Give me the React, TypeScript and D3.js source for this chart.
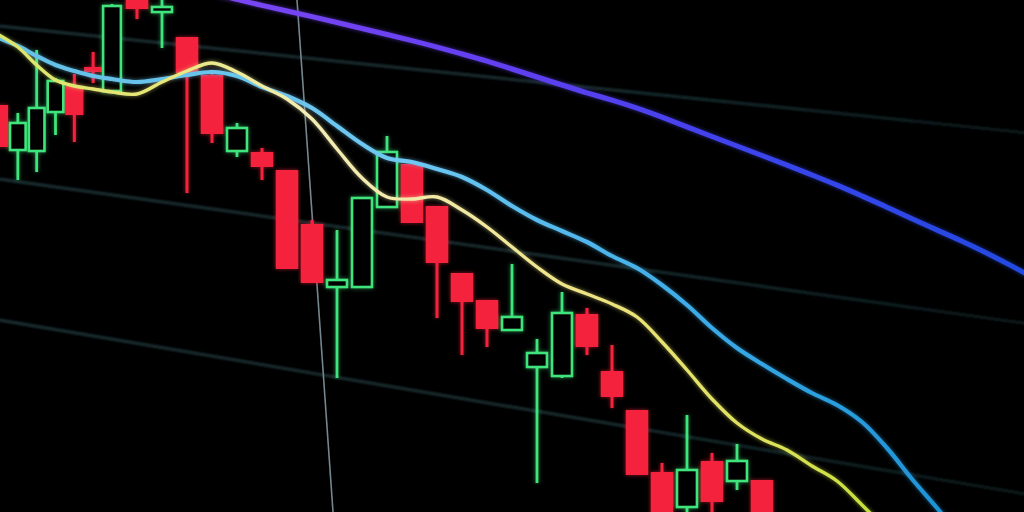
import React, { useEffect } from 'react';
import * as d3 from 'd3';

// ---------- data (prices) ----------
const candleIndex = d3.range(33);
const opens = [89.5, 85.0, 84.9, 88.8, 91.4, 93.3, 90.9, 100.8, 98.8, 96.3, 92.5, 84.9, 84.8, 83.0, 77.6, 71.3, 71.3, 79.3, 83.6, 79.4, 72.7, 70.0, 67.0, 63.3, 62.4, 68.6, 62.9, 59.0, 52.8, 49.3, 53.9, 51.9, 52.0];
const highs = [89.5, 88.7, 95.0, 92.2, 92.6, 94.8, 99.6, 101.5, 101.0, 96.3, 93.0, 87.7, 85.2, 83.0, 78.0, 77.0, 80.2, 86.4, 83.6, 79.4, 72.7, 70.0, 73.6, 66.1, 70.8, 69.2, 65.5, 59.0, 53.7, 58.5, 54.7, 55.6, 52.0];
const lows = [85.3, 82.0, 82.8, 86.5, 85.8, 91.7, 90.7, 98.1, 95.2, 80.7, 85.7, 84.3, 82.0, 73.1, 71.7, 62.2, 71.3, 79.3, 77.7, 68.2, 64.5, 65.3, 67.0, 51.7, 62.2, 64.5, 59.2, 52.5, 45.0, 48.5, 47.0, 51.0, 45.0];
const closes = [85.3, 87.7, 89.2, 91.9, 88.5, 92.8, 99.4, 99.1, 99.3, 92.7, 86.6, 87.2, 83.3, 73.1, 71.7, 72.0, 80.2, 84.8, 77.7, 73.7, 69.8, 67.1, 68.3, 64.7, 68.7, 65.3, 60.3, 52.5, 46.0, 53.0, 49.8, 53.9, 45.5];

// moving averages, one value per candle index (continuing below the frame)
const fastMA = [96.5, 95.3, 93.5, 92.0, 91.4, 91.1, 90.8, 90.6, 91.8, 92.9, 93.7, 92.8, 91.4, 90.1, 88.1, 85.1, 82.2, 80.3, 80.1, 80.3, 79.0, 77.3, 75.3, 73.3, 71.6, 70.6, 69.6, 68.3, 65.8, 63.0, 60.1, 57.7, 56.1, 55.0, 53.4, 51.9, 49.5, 47.0, 44.5];
const midMA = [96.2, 95.4, 94.4, 93.5, 92.9, 92.4, 92.1, 91.8, 92.1, 92.5, 92.8, 92.4, 91.3, 90.4, 89.2, 87.4, 85.6, 84.2, 83.8, 83.1, 82.3, 81.0, 79.4, 78.0, 76.9, 75.8, 74.4, 73.2, 71.5, 69.5, 67.2, 65.2, 63.6, 62.1, 60.7, 59.5, 57.8, 55.2, 52.1, 49.2, 46.2];
const slowMA = [106.5, 106.0, 105.4, 104.8, 104.2, 103.6, 103.0, 102.4, 101.8, 101.2, 100.7, 100.05, 99.45, 98.9, 98.35, 97.75, 97.15, 96.55, 95.95, 95.3, 94.6, 93.9, 93.1, 92.3, 91.5, 90.7, 90.0, 89.2, 88.3, 87.3, 86.35, 85.4, 84.45, 83.5, 82.5, 81.5, 80.4, 79.3, 78.1, 77.0, 75.9, 74.7, 73.4, 72.0];

// grid (price levels at the left and right ends, tilted by the camera angle)
const gridSpan = [0, 43];
const gridLeft = [97.4, 82.1, 68.0];
const gridRight = [86.6, 67.5, 50.4];
const crossIndex = [13.4, 14.84];
const crossPrice = [100, 48.8];

const W = 1024;
const H = 512;

export default function App() {
  useEffect(() => {
    document.body.style.margin = '0';
    document.body.style.background = '#000';
  }, []);

  // perspective: candles on the left are farther away, hence closer together
  const x = d3.scaleLinear().domain([0, 6, 43]).range([-1, 112, 1037]);
  const y = d3.scaleLinear().domain([48.8, 100]).range([H, 0]);

  const step = (i: number) => x(i + 0.5) - x(i - 0.5);
  const bw = (i: number) => 0.7 * step(i) + 5;

  const fastLine = d3
    .line<number>()
    .x((_, i) => x(i))
    .y((d) => y(d))
    .curve(d3.curveCatmullRom.alpha(0.5));
  const slowLine = d3
    .line<number>()
    .x((_, i) => x(i))
    .y((d) => y(d))
    .curve(d3.curveBasis);

  const RED = '#f5233c';
  const GREEN = '#3fe47c';

  return (
    <svg width={W} height={H} style={{ display: 'block', background: '#000' }}>
      <defs>
        <filter id="glow" x="-20%" y="-20%" width="140%" height="140%">
          <feGaussianBlur in="SourceGraphic" stdDeviation="2.2" result="b" />
          <feComponentTransfer in="b" result="bb">
            <feFuncA type="linear" slope="0.6" />
          </feComponentTransfer>
          <feMerge>
            <feMergeNode in="bb" />
            <feMergeNode in="SourceGraphic" />
          </feMerge>
        </filter>
        <filter id="soft" x="-5%" y="-50%" width="110%" height="200%">
          <feGaussianBlur stdDeviation="0.9" />
        </filter>
        <filter id="softer">
          <feGaussianBlur stdDeviation="0.35" />
        </filter>
        <linearGradient id="gGrid" gradientUnits="userSpaceOnUse" x1="0" y1="0" x2="1024" y2="0">
          <stop offset="0" stopColor="#1d3034" />
          <stop offset="0.6" stopColor="#1a2e31" />
          <stop offset="1" stopColor="#0c1a1b" />
        </linearGradient>
        <linearGradient id="gYellow" gradientUnits="userSpaceOnUse" x1="0" y1="0" x2="1024" y2="0">
          <stop offset="0" stopColor="#dce66a" />
          <stop offset="0.15" stopColor="#e6e676" />
          <stop offset="0.3" stopColor="#f4edb4" />
          <stop offset="0.45" stopColor="#f2e9a2" />
          <stop offset="0.6" stopColor="#ece27c" />
          <stop offset="0.75" stopColor="#dce25a" />
          <stop offset="0.86" stopColor="#c4df38" />
        </linearGradient>
        <linearGradient id="gCyan" gradientUnits="userSpaceOnUse" x1="0" y1="0" x2="1024" y2="0">
          <stop offset="0" stopColor="#64c0e6" />
          <stop offset="0.4" stopColor="#6ec8f2" />
          <stop offset="0.7" stopColor="#3aa9e6" />
          <stop offset="0.92" stopColor="#1d92d6" />
        </linearGradient>
        <linearGradient id="gPurple" gradientUnits="userSpaceOnUse" x1="0" y1="0" x2="1024" y2="0">
          <stop offset="0.2" stopColor="#7c46f4" />
          <stop offset="0.5" stopColor="#6140f0" />
          <stop offset="0.75" stopColor="#3a44ec" />
          <stop offset="1" stopColor="#2349e0" />
        </linearGradient>
      </defs>

      <rect x={0} y={0} width={W} height={H} fill="#000" />

      {/* grid */}
      <g filter="url(#soft)">
        {gridLeft.map((p, k) => (
          <line
            key={k}
            x1={x(gridSpan[0])}
            y1={y(p)}
            x2={x(gridSpan[1])}
            y2={y(gridRight[k])}
            stroke="url(#gGrid)"
            strokeWidth={3}
          />
        ))}
      </g>
      <line
        x1={x(crossIndex[0])}
        y1={y(crossPrice[0])}
        x2={x(crossIndex[1])}
        y2={y(crossPrice[1])}
        stroke="#74868f"
        strokeWidth={1.6}
        filter="url(#softer)"
      />

      {/* candles */}
      <g filter="url(#glow)">
        {candleIndex.map((i) => {
          const o = opens[i];
          const c = closes[i];
          const up = c >= o;
          const cx = x(i);
          const w = bw(i);
          const top = y(Math.max(o, c));
          const bot = y(Math.min(o, c));
          const color = up ? GREEN : RED;
          if (up) {
            const hbody = Math.max(bot - top, 3);
            return (
              <g key={i}>
                <line x1={cx} x2={cx} y1={y(highs[i])} y2={top} stroke={color} strokeWidth={2.8} />
                <line x1={cx} x2={cx} y1={top + hbody} y2={y(lows[i])} stroke={color} strokeWidth={2.8} />
                <rect
                  x={cx - w / 2 + 1.3}
                  y={top}
                  width={w - 2.6}
                  height={hbody}
                  fill="#000"
                  stroke={color}
                  strokeWidth={2.6}
                />
              </g>
            );
          }
          return (
            <g key={i}>
              <line x1={cx} x2={cx} y1={y(highs[i])} y2={y(lows[i])} stroke={color} strokeWidth={3} />
              <rect x={cx - w / 2} y={top} width={w} height={Math.max(bot - top, 4)} fill={color} />
            </g>
          );
        })}
      </g>

      {/* moving averages */}
      <g filter="url(#glow)" fill="none" strokeLinecap="round" strokeLinejoin="round">
        <path d={slowLine(slowMA) || ''} stroke="url(#gPurple)" strokeWidth={5} />
        <path d={fastLine(midMA) || ''} stroke="url(#gCyan)" strokeWidth={4.2} />
        <path d={fastLine(fastMA) || ''} stroke="url(#gYellow)" strokeWidth={3.4} />
      </g>
    </svg>
  );
}
